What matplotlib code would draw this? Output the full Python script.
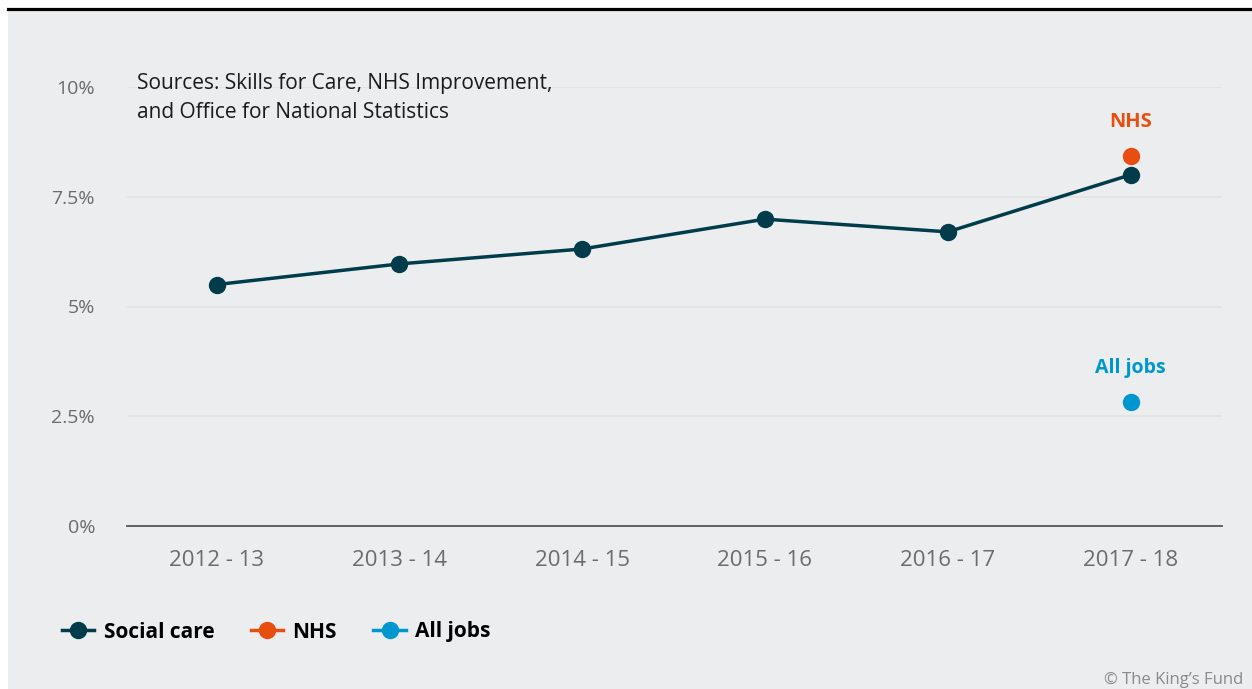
import matplotlib.pyplot as plt
from matplotlib.patches import Rectangle
from matplotlib.lines import Line2D

plt.rcParams['font.family'] = ['Open Sans', 'DejaVu Sans']

years = ['2012 - 13', '2013 - 14', '2014 - 15', '2015 - 16', '2016 - 17', '2017 - 18']
social_care = [5.5, 5.97, 6.31, 6.99, 6.7, 8.0]
nhs = [8.43]
all_jobs = [2.82]
yticks = [0, 2.5, 5, 7.5, 10]
ytick_labels = ['0%', '2.5%', '5%', '7.5%', '10%']

dark = '#003C4A'
orange = '#E84E0F'
blue = '#0096CF'
bg = '#ECEDEF'
grey_txt = '#6B6B6B'

fig = plt.figure(figsize=(12.52, 6.89), dpi=100, facecolor='white')

# panel background and top rule
fig.patches.append(Rectangle((8 / 1252, 0), 1 - 8 / 1252, 1 - 10 / 689,
                             transform=fig.transFigure, facecolor=bg, edgecolor='none', zorder=-5))
fig.add_artist(Line2D([8 / 1252, 1], [1 - 8.5 / 689, 1 - 8.5 / 689],
                      transform=fig.transFigure, color='black', linewidth=2.3))

ax = fig.add_axes([127 / 1252, 1 - 526 / 689, (1222 - 127) / 1252, (526 - 87) / 689])
ax.set_facecolor('none')
ax.set_zorder(2)

x = list(range(len(years)))
ax.plot(x, social_care, color=dark, linewidth=2.5, marker='o', markersize=11.5, zorder=3)
ax.plot([x[-1]], nhs, color=orange, linestyle='none', marker='o', markersize=11.5, zorder=3)
ax.plot([x[-1]], all_jobs, color=blue, linestyle='none', marker='o', markersize=11.5, zorder=3)

ax.text(x[-1], nhs[0] + 0.55, 'NHS', color=orange, fontsize=14.5, fontweight='bold',
        ha='center', va='bottom')
ax.text(x[-1], all_jobs[0] + 0.55, 'All jobs', color=blue, fontsize=14, fontweight='bold',
        ha='center', va='bottom')

ax.set_xlim(-0.49, 5.5)
ax.set_ylim(0, 10)
ax.set_yticks(yticks)
ax.set_yticklabels(ytick_labels)
ax.set_xticks(x)
ax.set_xticklabels(years)
ax.tick_params(axis='both', length=0, labelcolor=grey_txt)
ax.tick_params(axis='y', pad=23, labelsize=14)
ax.tick_params(axis='x', pad=17, labelsize=16)

for y in yticks[1:]:
    ax.axhline(y, color='#E2E3E5', linewidth=1.2, zorder=1)

for s in ['top', 'right', 'left']:
    ax.spines[s].set_visible(False)
ax.spines['bottom'].set_color('#555555')
ax.spines['bottom'].set_linewidth(1.3)

fig.text(137 / 1252, 1 - 98 / 689, 'Sources: Skills for Care, NHS Improvement,\nand Office for National Statistics',
         fontsize=15, color='#1A1A1A', va='center', ha='left', linespacing=1.45)

handles = [
    Line2D([], [], color=dark, linewidth=2.5, marker='o', markersize=11.5),
    Line2D([], [], color=orange, linewidth=2.5, marker='o', markersize=11.5),
    Line2D([], [], color=blue, linewidth=2.5, marker='o', markersize=11.5),
]
leg = fig.legend(handles, ['Social care', 'NHS', 'All jobs'], loc='center left',
                 bbox_to_anchor=(62 / 1252, 1 - 632 / 689), ncol=3, frameon=False,
                 borderpad=0, borderaxespad=0,
                 handlelength=1.55, handletextpad=0.45, columnspacing=1.75,
                 prop={'size': 15, 'weight': 'bold'})

fig.text(1243 / 1252, 1 - 680 / 689, '\u00a9 The King\u2019s Fund', fontsize=12,
         color='#8A8A8A', ha='right', va='center')

fig.savefig('out.png', dpi=100, facecolor='white')
